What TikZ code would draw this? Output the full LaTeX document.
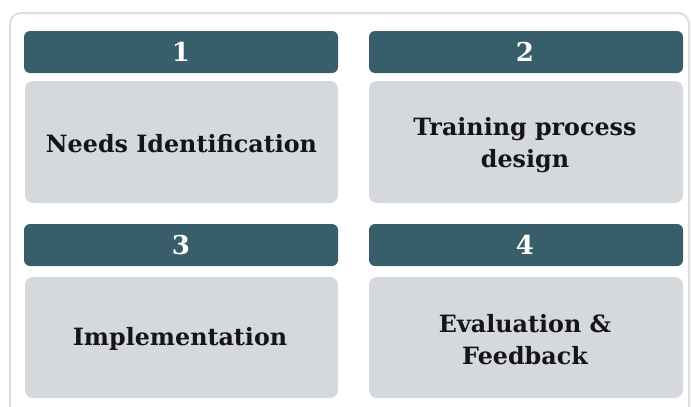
\documentclass[tikz,border=0pt]{standalone}
\usepackage{fontspec}
\setmainfont{DejaVu Serif}
\definecolor{hdr}{HTML}{385E6C}
\definecolor{boxc}{HTML}{D5D8DC}
\definecolor{frame}{HTML}{DCDEE1}
\definecolor{txt}{HTML}{151515}
\begin{document}
\begin{tikzpicture}[x=1pt,y=-1pt,
  hdrbox/.style={fill=hdr,rounded corners=6pt},
  cardbox/.style={fill=boxc,rounded corners=8pt},
  numtxt/.style={text=white,font=\fontsize{26}{30}\selectfont\bfseries},
  cardtxt/.style={text=txt,font=\fontsize{23.8}{32}\selectfont\bfseries,align=center}]
\useasboundingbox (0,0) rectangle (691,407);
\clip (0,0) rectangle (691,407);
\draw[frame,line width=2pt,rounded corners=11pt] (10,13) rectangle (689,430);
% headers
\fill[hdrbox] (24,31) rectangle (338,73);
\fill[hdrbox] (369,31) rectangle (683,73);
\fill[hdrbox] (24,224) rectangle (338,266);
\fill[hdrbox] (369,224) rectangle (683,266);
% cards
\fill[cardbox] (25,81) rectangle (338,203);
\fill[cardbox] (369,81) rectangle (683,203);
\fill[cardbox] (25,277) rectangle (338,398);
\fill[cardbox] (369,277) rectangle (683,398);
% texts
\node[numtxt] (n1) at (181,52) {1};
\node[numtxt] (n2) at (525,52) {2};
\node[numtxt] (n3) at (181,245) {3};
\node[numtxt] (n4) at (525,245) {4};
\node[cardtxt] (t1) at (181.5,144) {Needs Identification};
\node[cardtxt] (t2) at (525,145) {Training process\\design};
\node[cardtxt] (t3) at (180,339) {Implementation};
\node[cardtxt] (t4) at (525,340) {Evaluation \&\\Feedback};
\end{tikzpicture}
\end{document}
